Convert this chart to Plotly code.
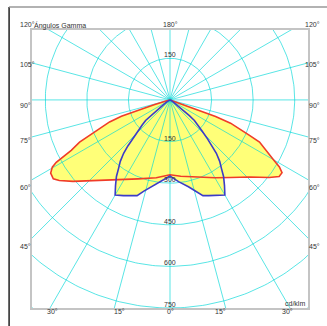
import numpy as np
import plotly.graph_objects as go

# Photometric curve: gamma angle (deg) and intensity (cd/klm)
# C0-C180 plane (red), left and right halves differ slightly
red_left_gamma = [0, 4, 10, 22, 30, 39, 45, 50, 54, 56, 58.5, 60.3, 61.3, 62, 63, 65, 66.2, 67.8, 70, 71.5, 72.5, 73, 75, 80, 90]
red_left_cd = [270, 275, 285, 307, 333, 373, 413, 457, 494, 508, 505, 489, 468, 438, 400, 360, 317, 275, 232, 185, 120, 60, 15, 4, 0]
red_right_gamma = [0, 8, 20, 30, 38, 46, 52, 55, 57, 58.5, 60.2, 62.3, 64.8, 66, 67.5, 69, 70, 70.5, 71, 75, 80, 90]
red_right_cd = [270, 278, 296, 324, 355, 400, 454, 481, 482, 463, 427, 392, 357, 314, 271, 234, 175, 110, 55, 15, 4, 0]

# C90-C270 plane (blue), symmetric
blue_gamma = [0, 2, 6, 12, 16, 19, 22, 26, 30, 32.5, 35, 37, 39, 41, 42.5, 44, 46, 48, 50, 51, 52, 54, 58, 65, 90]
blue_cd = [274, 281, 296, 320, 342, 365, 372, 384, 396, 366, 337, 308, 285, 255, 225, 195, 160, 135, 115, 90, 62, 30, 12, 5, 0]

ring_values = [150, 300, 450, 600, 750]
side_angles = [45, 60, 75, 90, 105, 120]
bottom_angles = [0, 15, 30]

X_RANGE = [-498, 498]
Y_RANGE = [-750, 252]

GRID = "rgba(0,215,215,0.65)"
YELLOW = "#FFFF78"


def to_xy(gamma, cd, side):
    g = np.radians(np.asarray(gamma, dtype=float))
    r = np.asarray(cd, dtype=float)
    return side * r * np.sin(g), -r * np.cos(g)


def px(x):
    return (x - X_RANGE[0]) / (X_RANGE[1] - X_RANGE[0])


def py(y):
    return (y - Y_RANGE[0]) / (Y_RANGE[1] - Y_RANGE[0])


# closed outlines: left half from 90 down to 0, then right half from 0 up to 90
lx, ly = to_xy(red_left_gamma[::-1], red_left_cd[::-1], -1)
rx, ry = to_xy(red_right_gamma, red_right_cd, 1)
red_x = np.concatenate([lx, rx])
red_y = np.concatenate([ly, ry])

bx1, by1 = to_xy(blue_gamma[::-1], blue_cd[::-1], -1)
bx2, by2 = to_xy(blue_gamma, blue_cd, 1)
blue_x = np.concatenate([bx1, bx2])
blue_y = np.concatenate([by1, by2])

fig = go.Figure()

# yellow fills
for xs, ys in [(red_x, red_y), (blue_x, blue_y)]:
    fig.add_trace(go.Scatter(x=xs, y=ys, mode="lines", fill="toself",
                             fillcolor=YELLOW, line=dict(width=0), hoverinfo="skip"))

# polar grid: circles and 15 degree radials
t = np.linspace(0, 2 * np.pi, 361)
for rv in ring_values + [900, 1050]:
    fig.add_trace(go.Scatter(x=rv * np.cos(t), y=rv * np.sin(t), mode="lines",
                             line=dict(color=GRID, width=1), hoverinfo="skip"))
for a in range(0, 360, 15):
    ar = np.radians(a)
    fig.add_trace(go.Scatter(x=[0, 1500 * np.sin(ar)], y=[0, -1500 * np.cos(ar)], mode="lines",
                             line=dict(color=GRID, width=1), hoverinfo="skip"))

# outlines
fig.add_trace(go.Scatter(x=red_x, y=red_y, mode="lines",
                         line=dict(color="#F03C28", width=1.6), name="C0-C180"))
fig.add_trace(go.Scatter(x=blue_x, y=blue_y, mode="lines",
                         line=dict(color="#3C3CC8", width=1.6), name="C90-C270"))

font = dict(family="Liberation Sans, Arial", size=7, color="#333333")
ann = []

# ring values along the vertical
for rv in ring_values:
    ann.append(dict(x=0, y=-rv, xref="x", yref="y", text=str(rv), showarrow=False,
                    yanchor="bottom", yshift=-2, font=font))
ann.append(dict(x=0, y=150, xref="x", yref="y", text="150", showarrow=False,
                yanchor="bottom", yshift=-2, font=font))

# gamma labels round the box
side_x = 548
top_y = 292
bottom_y = -781
for a in side_angles:
    y = -side_x / np.tan(np.radians(a)) if a != 90 else 0
    y = min(y, top_y)
    for sx in (-side_x, side_x):
        ann.append(dict(x=px(sx), y=py(y), xref="paper", yref="paper", text=f"{a}°",
                        showarrow=False, font=font))
ann.append(dict(x=px(0), y=py(top_y), xref="paper", yref="paper", text="180°",
                showarrow=False, font=font))
for a in bottom_angles:
    bx = -bottom_y * np.tan(np.radians(a))
    for sx in ((-bx, bx) if a else (0,)):
        ann.append(dict(x=px(sx), y=py(bottom_y), xref="paper", yref="paper", text=f"{a}°",
                        showarrow=False, font=font))

ann.append(dict(x=0, y=py(top_y), xref="paper", yref="paper", text="Ángulos Gamma",
                showarrow=False, xanchor="left", font=font))
ann.append(dict(x=0.995, y=-735, xref="paper", yref="y", text="cd/klm",
                showarrow=False, xanchor="right", font=font))

fig.update_layout(
    width=327, height=326,
    margin=dict(l=32, r=19, t=30, b=18),
    plot_bgcolor="white", paper_bgcolor="white",
    showlegend=False,
    annotations=ann,
    shapes=[
        dict(type="line", xref="paper", yref="paper", x0=-0.083, x1=-0.083, y0=1.083, y1=-0.08,
             line=dict(color="#222222", width=1.5)),
        dict(type="line", xref="paper", yref="paper", x0=-0.083, x1=1.1, y0=1.083, y1=1.083,
             line=dict(color="#999999", width=1.5)),
    ],
)
fig.update_xaxes(range=X_RANGE, showgrid=False, zeroline=False, showticklabels=False,
                 showline=True, mirror=True, linecolor="#C4C4C4", linewidth=2)
fig.update_yaxes(range=Y_RANGE, showgrid=False, zeroline=False, showticklabels=False,
                 showline=True, mirror=True, linecolor="#C4C4C4", linewidth=2)

# the page has a default body margin; remove it so the figure sits at the window corner
fig.write_html("out.html", config={"displayModeBar": False},
               post_script="document.body.style.margin='0';")
